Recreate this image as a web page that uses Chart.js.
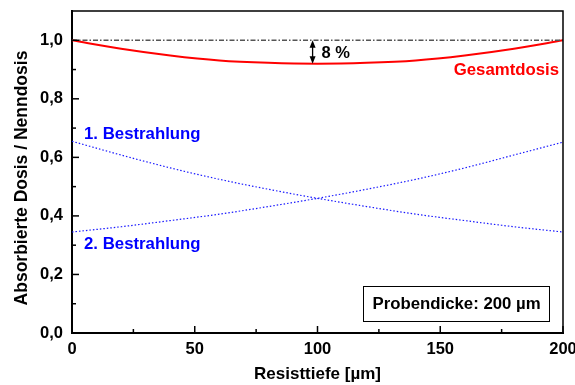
<!DOCTYPE html>
<html><head><meta charset="utf-8">
<script src="https://cdn.jsdelivr.net/npm/chart.js@4"></script>
<style>html,body{margin:0;padding:0;background:#fff}canvas{display:block}</style>
</head><body>
<canvas id="c" width="575" height="385" style="width:575px;height:385px"></canvas>
<script>
// ---- data ----
const depth        = [0, 20, 40, 60, 80, 100, 120, 140, 160, 180, 200];          // Resisttiefe [µm]
const bestrahlung1 = [0.655, 0.608, 0.564, 0.525, 0.491, 0.460, 0.432, 0.406, 0.384, 0.363, 0.345];
const bestrahlung2 = [0.345, 0.363, 0.384, 0.406, 0.432, 0.460, 0.491, 0.525, 0.564, 0.608, 0.652];
const gesamtdosis  = [1.000, 0.971, 0.948, 0.931, 0.923, 0.920, 0.923, 0.931, 0.948, 0.971, 1.000];
const nennDepth    = [0, 200];
const nenndosis    = [1.0, 1.0];
const xMajorTicks  = [0, 50, 100, 150, 200];
const xMinorTicks  = [25, 75, 125, 175];
const yMajorTicks  = [0, 0.2, 0.4, 0.6, 0.8, 1.0];
const yMinorTicks  = [0.1, 0.3, 0.5, 0.7, 0.9];
const dipDepth = 98, dipTop = 1.0, dipBottom = 0.92, dipLabel = '8 %';
const yTitle = 'Absorbierte Dosis / Nenndosis';

const FONT = '"Liberation Sans", Arial, Helvetica, sans-serif';
const pts = (xs, ys) => xs.map((x, i) => ({x, y: ys[i]}));

const overlay = {
  id: 'overlay',
  afterDraw(chart) {
    const ctx = chart.ctx, xs = chart.scales.x, ys = chart.scales.y, a = chart.chartArea;
    ctx.save();
    // frame top/right
    ctx.strokeStyle = '#000'; ctx.lineWidth = 1.5;
    ctx.beginPath();
    ctx.moveTo(a.left, a.top); ctx.lineTo(a.right, a.top); ctx.lineTo(a.right, a.bottom);
    ctx.stroke();
    // inward ticks
    ctx.lineWidth = 1.5;
    const tick = (x1, y1, x2, y2) => { ctx.beginPath(); ctx.moveTo(x1, y1); ctx.lineTo(x2, y2); ctx.stroke(); };
    yMajorTicks.forEach(v => { const p = ys.getPixelForValue(v); tick(a.left, p, a.left + 7, p); });
    yMinorTicks.forEach(v => { const p = ys.getPixelForValue(v); tick(a.left, p, a.left + 4, p); });
    xMajorTicks.forEach(v => { const p = xs.getPixelForValue(v); tick(p, a.bottom, p, a.bottom - 7); });
    xMinorTicks.forEach(v => { const p = xs.getPixelForValue(v); tick(p, a.bottom, p, a.bottom - 4); });

    // y axis title
    ctx.save();
    ctx.translate(22, (a.top + a.bottom) / 2 + 6);
    ctx.rotate(-Math.PI / 2);
    ctx.fillStyle = '#000'; ctx.textAlign = 'center'; ctx.textBaseline = 'middle';
    ctx.font = 'bold 17.5px ' + FONT;
    ctx.fillText(yTitle, 0, 0);
    ctx.restore();

    // double arrow for the dip
    const ax = xs.getPixelForValue(dipDepth), y1 = ys.getPixelForValue(dipTop), y2 = ys.getPixelForValue(dipBottom);
    ctx.strokeStyle = '#000'; ctx.fillStyle = '#000'; ctx.lineWidth = 1.3;
    tick(ax, y1 + 3, ax, y2 - 3);
    ctx.beginPath(); ctx.moveTo(ax, y1); ctx.lineTo(ax - 3, y1 + 7.5); ctx.lineTo(ax + 3, y1 + 7.5); ctx.closePath(); ctx.fill();
    ctx.beginPath(); ctx.moveTo(ax, y2); ctx.lineTo(ax - 3, y2 - 7.5); ctx.lineTo(ax + 3, y2 - 7.5); ctx.closePath(); ctx.fill();

    ctx.textBaseline = 'middle';
    ctx.font = 'bold 16.5px ' + FONT;
    ctx.textAlign = 'left';
    ctx.fillText(dipLabel, ax + 9, (y1 + y2) / 2 + 1);

    ctx.font = 'bold 16.8px ' + FONT;
    ctx.fillStyle = '#ff0000'; ctx.textAlign = 'right';
    ctx.fillText('Gesamtdosis', xs.getPixelForValue(198.4), ys.getPixelForValue(0.898));
    ctx.fillStyle = '#0000ff'; ctx.textAlign = 'left';
    ctx.fillText('1. Bestrahlung', xs.getPixelForValue(4.9), ys.getPixelForValue(0.68));
    ctx.fillText('2. Bestrahlung', xs.getPixelForValue(4.9), ys.getPixelForValue(0.304));

    // sample thickness box
    const bx1 = xs.getPixelForValue(118.7), bx2 = xs.getPixelForValue(194.6);
    const by1 = ys.getPixelForValue(0.16), by2 = ys.getPixelForValue(0.041);
    ctx.fillStyle = '#fff'; ctx.fillRect(bx1, by1, bx2 - bx1, by2 - by1);
    ctx.strokeStyle = '#000'; ctx.lineWidth = 1;
    ctx.strokeRect(Math.round(bx1) + 0.5, Math.round(by1) + 0.5, Math.round(bx2 - bx1), Math.round(by2 - by1));
    ctx.fillStyle = '#000'; ctx.textAlign = 'center'; ctx.font = 'bold 16.8px ' + FONT;
    ctx.fillText('Probendicke: 200 µm', (bx1 + bx2) / 2, (by1 + by2) / 2 + 1);
    ctx.restore();
  }
};

new Chart(document.getElementById('c'), {
  type: 'line',
  data: {
    datasets: [
      { data: pts(nennDepth, nenndosis), borderColor: '#555555', borderWidth: 1.5, borderDash: [5, 2, 1.5, 2], pointRadius: 0, tension: 0 },
      { data: pts(depth, bestrahlung1), borderColor: '#1a1aff', borderWidth: 1.2, borderDash: [1.5, 2], pointRadius: 0, cubicInterpolationMode: 'monotone' },
      { data: pts(depth, bestrahlung2), borderColor: '#1a1aff', borderWidth: 1.2, borderDash: [1.5, 2], pointRadius: 0, cubicInterpolationMode: 'monotone' },
      { data: pts(depth, gesamtdosis), borderColor: '#ff0000', borderWidth: 2, pointRadius: 0, cubicInterpolationMode: 'monotone' }
    ]
  },
  options: {
    responsive: false, animation: false, devicePixelRatio: 1,
    layout: { padding: { top: 11, right: 12, left: 0, bottom: 0 } },
    plugins: { legend: { display: false }, tooltip: { enabled: false } },
    scales: {
      x: {
        type: 'linear', min: 0, max: 200,
        afterFit(s) { s.height = 52; s.paddingLeft = 0; s.paddingRight = 0; },
        grid: { display: false, drawTicks: false },
        border: { display: true, color: '#000', width: 2 },
        afterBuildTicks(s) { s.ticks = xMajorTicks.map(v => ({value: v})); },
        ticks: { padding: 7, color: '#000', font: { family: FONT, weight: 'bold', size: 16.5 }, maxRotation: 0 },
        title: { display: true, text: 'Resisttiefe [µm]', color: '#000', padding: 0, font: { family: FONT, weight: 'bold', size: 17 } }
      },
      y: {
        type: 'linear', min: 0, max: 1.1,
        afterFit(s) { s.width = 72; s.paddingTop = 0; s.paddingBottom = 0; },
        grid: { display: false, drawTicks: false },
        border: { display: true, color: '#000', width: 2 },
        afterBuildTicks(s) { s.ticks = yMajorTicks.map(v => ({value: v})); },
        ticks: { padding: 9, color: '#000', font: { family: FONT, weight: 'bold', size: 16.5 },
                 callback: v => v.toFixed(1).replace('.', ',') },
        title: { display: false }
      }
    }
  },
  plugins: [overlay]
});
</script>
</body></html>
